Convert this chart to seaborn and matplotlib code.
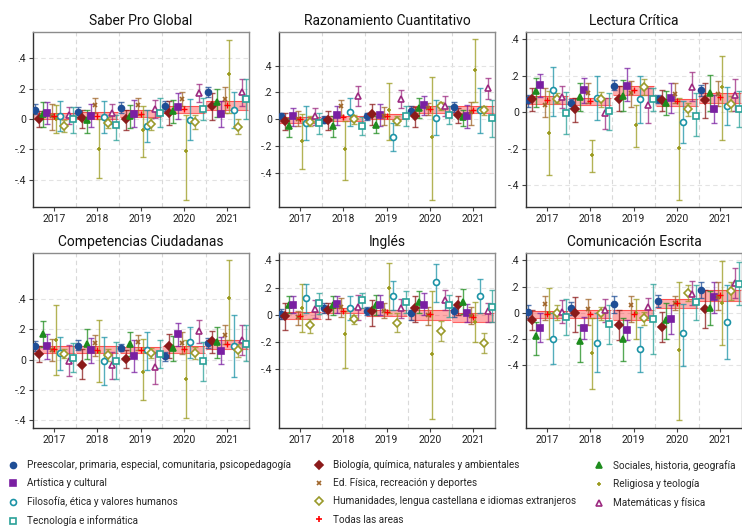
import numpy as np
import pandas as pd
import matplotlib
matplotlib.use("Agg")
import matplotlib.pyplot as plt
from matplotlib.lines import Line2D
import seaborn as sns

years = [2017, 2018, 2019, 2020, 2021]
groups = ["Preescolar, primaria, especial, comunitaria, psicopedagogía",
          "Biología, química, naturales y ambientales",
          "Sociales, historia, geografía",
          "Artística y cultural",
          "Ed. Física, recreación y deportes",
          "Religiosa y teología",
          "Filosofía, ética y valores humanos",
          "Humanidades, lengua castellana e idiomas extranjeros",
          "Matemáticas y física",
          "Tecnología e informática",
          "Todas las areas"]
titles = ["Saber Pro Global", "Razonamiento Cuantitativo", "Lectura Crítica",
          "Competencias Ciudadanas", "Inglés", "Comunicación Escrita"]

# rows follow `groups`, columns follow `years`
global_est = [[0.06, 0.048, 0.075, 0.086, 0.174], [0.0, 0.004, 0.0, 0.04, 0.086],
              [0.03, -0.01, 0.02, 0.053, 0.11], [0.037, 0.022, 0.033, 0.08, 0.033],
              [0.02, 0.09, 0.09, 0.13, 0.13], [0.0, -0.197, -0.075, -0.21, 0.297],
              [0.02, 0.015, -0.046, -0.005, 0.06], [-0.044, -0.024, -0.03, -0.022, -0.05],
              [0.026, 0.04, 0.065, 0.17, 0.178], [0.0, -0.04, 0.04, 0.066, 0.132],
              [0.02, 0.022, 0.033, 0.064, 0.09]]
global_lo = [[0.03, 0.015, 0.04, 0.05, 0.143], [-0.05, -0.06, -0.07, -0.04, -0.007],
             [-0.05, -0.095, -0.06, -0.025, 0.015], [-0.03, -0.05, -0.055, 0.0, -0.05],
             [-0.07, 0.04, 0.025, 0.085, 0.04], [-0.09, -0.39, -0.25, -0.53, 0.04],
             [-0.077, -0.095, -0.15, -0.14, -0.06], [-0.083, -0.06, -0.07, -0.068, -0.1],
             [-0.03, -0.03, 0.005, 0.11, 0.085], [-0.09, -0.135, -0.055, -0.007, 0.0],
             [0.0, 0.0, 0.015, 0.04, 0.06]]
global_hi = [[0.095, 0.08, 0.11, 0.12, 0.21], [0.05, 0.06, 0.06, 0.12, 0.17],
             [0.11, 0.06, 0.09, 0.125, 0.2], [0.11, 0.1, 0.125, 0.17, 0.12],
             [0.1, 0.14, 0.135, 0.175, 0.21], [0.09, 0.0, 0.085, 0.025, 0.52],
             [0.12, 0.12, 0.06, 0.13, 0.18], [-0.007, 0.015, 0.005, 0.026, 0.0],
             [0.08, 0.1, 0.125, 0.23, 0.26], [0.08, 0.025, 0.14, 0.136, 0.265],
             [0.042, 0.045, 0.06, 0.086, 0.12]]

razon_est = [[0.025, -0.005, 0.02, 0.063, 0.09], [-0.013, -0.005, 0.037, 0.02, 0.033],
             [-0.05, -0.05, -0.045, 0.083, 0.015], [0.02, 0.033, 0.033, 0.105, 0.025],
             [0.0, 0.095, 0.025, 0.08, 0.05], [-0.165, -0.225, 0.065, -0.13, 0.37],
             [-0.025, 0.057, -0.13, 0.008, 0.07], [-0.018, 0.0, -0.01, 0.1, 0.07],
             [0.02, 0.175, 0.15, 0.095, 0.233], [-0.025, -0.05, 0.025, 0.033, 0.008],
             [0.0, 0.015, 0.02, 0.078, 0.07]]
razon_lo = [[0.0, -0.03, -0.005, 0.033, 0.055], [-0.08, -0.08, -0.04, -0.055, -0.025],
            [-0.13, -0.13, -0.1, 0.008, -0.05], [-0.05, -0.04, -0.05, 0.033, -0.065],
            [-0.05, 0.033, -0.04, 0.03, -0.04], [-0.375, -0.45, -0.155, -0.6, 0.13],
            [-0.155, -0.05, -0.24, -0.12, -0.105], [-0.05, -0.035, -0.04, 0.07, 0.033],
            [-0.04, 0.1, 0.08, 0.02, 0.15], [-0.11, -0.12, -0.05, -0.035, -0.13],
            [-0.025, -0.01, 0.0, 0.045, 0.045]]
razon_hi = [[0.045, 0.02, 0.045, 0.095, 0.13], [0.045, 0.06, 0.11, 0.09, 0.083],
            [0.01, 0.02, 0.02, 0.158, 0.07], [0.085, 0.1, 0.11, 0.17, 0.108],
            [0.06, 0.145, 0.09, 0.12, 0.13], [0.035, -0.01, 0.27, 0.315, 0.595],
            [0.1, 0.16, -0.025, 0.145, 0.233], [0.02, 0.03, 0.02, 0.128, 0.1],
            [0.085, 0.245, 0.215, 0.175, 0.31], [0.045, 0.015, 0.1, 0.1, 0.145],
            [0.015, 0.025, 0.04, 0.095, 0.1]]

lectura_est = [[0.068, 0.05, 0.145, 0.074, 0.12], [0.072, 0.017, 0.074, 0.065, 0.065],
               [0.115, 0.083, 0.09, 0.05, 0.105], [0.15, 0.12, 0.145, 0.077, 0.018],
               [0.037, 0.105, 0.105, 0.1, 0.1], [-0.112, -0.236, -0.07, -0.194, 0.138],
               [0.12, 0.077, 0.074, -0.052, 0.035], [0.074, 0.074, 0.138, 0.017, 0.046],
               [0.081, -0.005, 0.04, 0.138, 0.096], [-0.005, 0.007, 0.072, -0.02, 0.018],
               [0.068, 0.063, 0.12, 0.059, 0.081]]
lectura_lo = [[0.03, 0.022, 0.12, 0.05, 0.087], [0.005, -0.055, 0.004, 0.004, -0.033],
              [0.03, 0.004, 0.004, -0.015, 0.004], [0.085, 0.05, 0.06, -0.005, -0.06],
              [-0.025, 0.05, 0.03, 0.05, 0.035], [-0.345, -0.33, -0.19, -0.48, -0.15],
              [-0.02, -0.04, -0.057, -0.17, -0.07], [0.05, 0.03, 0.096, -0.02, 0.004],
              [0.022, -0.09, -0.057, 0.059, 0.004], [-0.12, -0.097, 0.004, -0.13, -0.08],
              [0.046, 0.04, 0.096, 0.035, 0.05]]
lectura_hi = [[0.095, 0.072, 0.175, 0.096, 0.15], [0.133, 0.077, 0.145, 0.123, 0.16],
              [0.19, 0.16, 0.175, 0.114, 0.206], [0.21, 0.188, 0.24, 0.16, 0.096],
              [0.133, 0.16, 0.17, 0.16, 0.17], [0.115, -0.15, 0.04, 0.077, 0.31],
              [0.25, 0.2, 0.197, 0.059, 0.138], [0.105, 0.113, 0.184, 0.05, 0.087],
              [0.142, 0.077, 0.133, 0.22, 0.183], [0.11, 0.105, 0.133, 0.105, 0.114],
              [0.087, 0.08, 0.145, 0.074, 0.105]]

ciud_est = [[0.086, 0.092, 0.077, 0.02, 0.108], [0.037, -0.033, 0.004, 0.092, 0.119],
            [0.165, 0.1, 0.103, 0.075, 0.114], [0.092, 0.062, 0.026, 0.165, 0.055],
            [0.06, 0.11, 0.115, 0.11, 0.158], [0.13, 0.05, -0.085, -0.127, 0.407],
            [0.042, -0.011, 0.06, 0.114, 0.088], [0.037, 0.031, 0.042, 0.042, 0.06],
            [-0.007, -0.035, -0.046, 0.185, 0.125], [0.011, -0.007, 0.037, -0.013, 0.103],
            [0.066, 0.06, 0.06, 0.066, 0.103]]
ciud_lo = [[0.053, 0.06, 0.053, -0.007, 0.075], [-0.018, -0.13, -0.057, 0.009, 0.044],
           [0.081, 0.004, 0.026, -0.013, 0.009], [0.004, -0.022, -0.079, 0.088, -0.029],
           [-0.007, 0.026, 0.06, 0.037, 0.103], [-0.1, -0.15, -0.264, -0.387, 0.125],
           [-0.068, -0.167, -0.066, 0.009, -0.115], [0.009, -0.007, 0.009, 0.004, 0.015],
           [-0.105, -0.127, -0.16, 0.108, 0.031], [-0.084, -0.127, -0.057, -0.138, -0.013],
           [0.044, 0.044, 0.044, 0.042, 0.07]]
ciud_hi = [[0.12, 0.125, 0.103, 0.048, 0.143], [0.088, 0.07, 0.06, 0.17, 0.19],
           [0.25, 0.2, 0.18, 0.152, 0.213], [0.17, 0.143, 0.13, 0.24, 0.147],
           [0.136, 0.163, 0.163, 0.18, 0.229], [0.355, 0.26, 0.136, 0.125, 0.653],
           [0.147, 0.145, 0.18, 0.213, 0.29], [0.07, 0.066, 0.075, 0.081, 0.1],
           [0.097, 0.048, 0.048, 0.257, 0.224], [0.108, 0.114, 0.125, 0.114, 0.229],
           [0.088, 0.088, 0.081, 0.086, 0.125]]

ingles_est = [[0.007, 0.054, 0.03, 0.012, 0.025], [-0.007, 0.037, 0.025, 0.05, 0.069],
              [0.074, 0.069, 0.069, 0.093, 0.093], [0.074, 0.078, 0.074, 0.074, 0.012],
              [-0.012, 0.06, 0.03, 0.0, -0.01], [0.054, -0.14, 0.2, -0.29, -0.05],
              [0.123, 0.054, 0.14, 0.238, 0.135], [-0.074, -0.032, -0.06, -0.118, -0.21],
              [0.044, 0.06, 0.05, 0.11, 0.025], [0.086, 0.11, 0.093, 0.069, 0.06],
              [-0.005, 0.032, 0.02, 0.005, -0.012]]
ingles_lo = [[-0.03, 0.017, 0.0, -0.037, -0.012], [-0.11, -0.032, -0.078, -0.05, 0.0],
             [0.012, 0.0, 0.0, 0.012, 0.005], [0.012, 0.012, 0.0, 0.0, -0.05],
             [-0.074, -0.012, -0.02, -0.074, -0.07], [-0.123, -0.388, 0.012, -0.765, -0.196],
             [0.012, -0.037, 0.037, 0.093, 0.012], [-0.13, -0.069, -0.128, -0.19, -0.28],
             [-0.025, -0.037, -0.02, 0.037, -0.05], [0.005, 0.054, 0.012, -0.012, -0.05],
             [-0.032, 0.012, -0.005, -0.037, -0.054]]
ingles_hi = [[0.042, 0.09, 0.06, 0.037, 0.06], [0.086, 0.086, 0.11, 0.135, 0.135],
             [0.135, 0.135, 0.147, 0.172, 0.19], [0.135, 0.142, 0.147, 0.16, 0.078],
             [0.03, 0.127, 0.09, 0.06, 0.06], [0.228, 0.025, 0.38, 0.177, 0.098],
             [0.228, 0.142, 0.25, 0.373, 0.26], [-0.032, 0.0, 0.012, -0.044, -0.135],
             [0.11, 0.147, 0.118, 0.184, 0.086], [0.164, 0.164, 0.177, 0.147, 0.184],
             [0.02, 0.054, 0.037, 0.037, 0.012]]

escrita_est = [[0.008, 0.033, 0.067, 0.09, 0.174], [-0.056, -0.005, -0.095, -0.108, 0.028],
               [-0.18, -0.215, -0.2, -0.056, 0.033], [-0.113, -0.113, -0.133, -0.049, 0.118],
               [0.064, 0.03, 0.059, 0.077, 0.123], [-0.005, -0.305, -0.005, -0.287, 0.072],
               [-0.197, -0.231, -0.28, -0.154, -0.074], [0.0, -0.005, -0.044, 0.149, 0.167],
               [0.003, 0.02, 0.041, 0.141, 0.226], [-0.03, -0.087, -0.05, 0.08, 0.218],
               [-0.013, -0.013, -0.013, 0.072, 0.136]]
escrita_lo = [[-0.044, -0.018, -0.005, 0.046, 0.115], [-0.133, -0.146, -0.21, -0.223, -0.115],
              [-0.326, -0.377, -0.37, -0.197, -0.095], [-0.223, -0.197, -0.21, -0.159, -0.005],
              [-0.056, -0.095, -0.07, 0.02, 0.02], [-0.197, -0.582, -0.2, -0.818, -0.249],
              [-0.39, -0.454, -0.454, -0.403, -0.351], [-0.056, -0.056, -0.09, 0.09, 0.097],
              [-0.082, -0.07, -0.044, 0.059, 0.115], [-0.172, -0.236, -0.318, -0.056, 0.059],
              [-0.044, -0.044, -0.056, 0.038, 0.09]]
escrita_hi = [[0.059, 0.085, 0.13, 0.136, 0.233], [0.02, 0.123, 0.02, 0.008, 0.174],
              [-0.07, -0.095, -0.04, 0.072, 0.167], [-0.005, -0.03, -0.056, 0.059, 0.233],
              [0.128, 0.105, 0.13, 0.13, 0.238], [0.187, -0.044, 0.105, 0.233, 0.397],
              [-0.005, -0.005, -0.108, 0.064, 0.213], [0.059, 0.046, 0.003, 0.213, 0.233],
              [0.097, 0.105, 0.11, 0.244, 0.341], [0.105, 0.059, 0.218, 0.213, 0.387],
              [0.013, 0.02, 0.02, 0.105, 0.174]]

panels = [(global_est, global_lo, global_hi), (razon_est, razon_lo, razon_hi),
          (lectura_est, lectura_lo, lectura_hi), (ciud_est, ciud_lo, ciud_hi),
          (ingles_est, ingles_lo, ingles_hi), (escrita_est, escrita_lo, escrita_hi)]
ylims = [(-0.578, 0.571), (-0.655, 0.65), (-0.52, 0.44),
         (-0.45, 0.70), (-0.83, 0.454), (-0.88, 0.456)]

# marker style per group: (color, marker, size, hollow)
styles = [("#1f4e96", "o", 4.3, False), ("#8b1a1a", "D", 4.0, False),
          ("#1e8c1e", "^", 4.6, False), ("#7a1fa2", "s", 4.3, False),
          ("#a0662a", "x", 2.5, False), ("#9a9a1e", "+", 2.5, False),
          ("#1c93a6", "o", 4.3, True), ("#9a9a2a", "D", 4.0, True),
          ("#9c2a80", "^", 4.6, True), ("#2aa198", "s", 4.3, True),
          ("#ff0000", "+", 5, False)]

sns.set_theme(style="white")
plt.rcParams["font.family"] = ["Roboto", "DejaVu Sans"]

fig = plt.figure(figsize=(7.42, 5.31), dpi=100)
W, H = 742, 531
lefts = [33, 279, 526]
tops = [32, 253]
pw, ph = 216, 175

offsets = [(i - 4.5) * 0.098 for i in range(10)]

for k, (est, lo, hi) in enumerate(panels):
    r, c = divmod(k, 3)
    ax = fig.add_axes([lefts[c] / W, 1 - (tops[r] + ph) / H, pw / W, ph / H])
    est = np.array(est)
    lo = np.array(lo)
    hi = np.array(hi)
    yrs = np.array(years, dtype=float)

    # Todas las areas: shaded CI band per year
    for j, y in enumerate(yrs):
        ax.fill_between([y - 0.48, y + 0.48], lo[10, j], hi[10, j],
                        color="#ff0000", alpha=0.32, lw=0, zorder=1)
        ax.hlines([lo[10, j], hi[10, j]], y - 0.48, y + 0.48,
                  color="#ff3030", lw=0.8, alpha=0.75, zorder=1)
    col, mk, ms, hollow = styles[10]
    ax.plot(yrs, est[10], ls="none", marker=mk, ms=ms, color=col, mew=1.0, zorder=4)

    for g in range(10):
        col, mk, ms, hollow = styles[g]
        x = yrs + offsets[g]
        ax.errorbar(x, est[g], yerr=[est[g] - lo[g], hi[g] - est[g]], fmt="none",
                    ecolor=col, elinewidth=1.0, capsize=2.2, capthick=1.0,
                    alpha=0.75, zorder=2)
        ax.plot(x, est[g], ls="none", marker=mk, ms=ms, color=col,
                mfc="white" if hollow else col, mec=col, mew=1.2, zorder=3)

    ax.set_xlim(2016.52, 2021.5)
    ax.set_ylim(*ylims[k])
    ax.set_xticks(years)
    ax.set_xticklabels([str(y) for y in years])
    ax.set_yticks([-0.4, -0.2, 0, 0.2, 0.4])
    ax.set_yticklabels(["-.4", "-.2", "0", ".2", ".4"])
    ax.tick_params(axis="both", labelsize=7.5, length=3, width=0.8, color="#444",
                   labelcolor="#222", pad=2, left=True, bottom=True)
    for v in [2017.5, 2018.5, 2019.5, 2020.5]:
        ax.axvline(v, color="#d9d9d9", lw=0.8, ls=(0, (4, 3)), zorder=0)
    for v in [-0.4, -0.2, 0, 0.2, 0.4]:
        ax.axhline(v, color="#e3e3e3", lw=0.8, ls=(0, (4, 3)), zorder=0)
    for side in ["left", "bottom"]:
        ax.spines[side].set_color("#333333")
        ax.spines[side].set_linewidth(1.0)
    for side in ["top", "right"]:
        ax.spines[side].set_color("#8c8c8c")
        ax.spines[side].set_linewidth(1.0)
    ax.set_title(titles[k], fontsize=10, color="#111", pad=5)

handles = []
for g in range(11):
    col, mk, ms, hollow = styles[g]
    handles.append(Line2D([], [], ls="none", marker=mk, ms=ms, color=col,
                          mfc="white" if hollow else col, mec=col, mew=1.2))

col_members = [[0, 3, 6, 9], [1, 4, 7, 10], [2, 5, 8]]
col_x = [8, 314, 594]
for members, xpx in zip(col_members, col_x):
    fig.legend([handles[i] for i in members], [groups[i] for i in members],
               loc="upper left", bbox_to_anchor=(xpx / W, 1 - 460 / H),
               frameon=False, fontsize=7.2, handlelength=1.0, handletextpad=0.9,
               labelspacing=0.82, borderpad=0, borderaxespad=0)

fig.savefig("out.png", dpi=100, facecolor="white")
